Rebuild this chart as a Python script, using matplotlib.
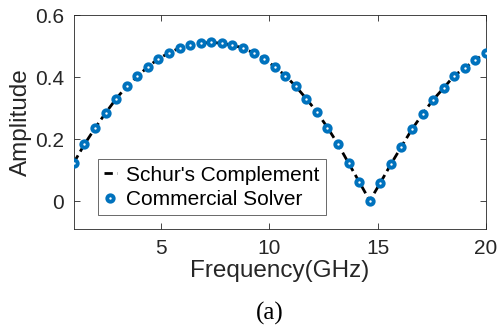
import numpy as np
import matplotlib
matplotlib.use("Agg")
import matplotlib.pyplot as plt

freq = np.linspace(1, 20, 40)
schur = [0.124, 0.183, 0.235, 0.284, 0.330, 0.370, 0.402, 0.433, 0.459, 0.478,
         0.494, 0.503, 0.509, 0.512, 0.509, 0.503, 0.494, 0.478, 0.459, 0.433,
         0.405, 0.370, 0.330, 0.287, 0.237, 0.183, 0.122, 0.062, 0.001, 0.059,
         0.119, 0.176, 0.232, 0.281, 0.327, 0.365, 0.405, 0.429, 0.456, 0.478]
solver = list(schur)
xticks = [5, 10, 15, 20]
yticks = [0, 0.2, 0.4, 0.6]

plt.rcParams['font.family'] = ['Liberation Sans', 'DejaVu Sans']
fig = plt.figure(figsize=(4.99, 3.28), dpi=100)
ax = fig.add_axes([0.148, 0.302, 0.826, 0.652])

ax.plot(freq, schur, color='black', lw=2, ls=(0, (3, 1.6)), label="Schur's Complement", zorder=2)
ax.plot(freq, solver, ls='none', marker='o', ms=4.6, mfc='white', mec='#0072BD', mew=2.8,
        label='Commercial Solver', zorder=3)

ax.set_xlim(1, 20)
ax.set_ylim(-0.09, 0.6)
ax.set_xticks(xticks)
ax.set_yticks(yticks)
ax.set_yticklabels(['0', '0.2', '0.4', '0.6'])
ax.tick_params(direction='in', top=True, right=True, length=4, width=0.6,
               colors='#262626', labelsize=15, pad=7)
for s in ax.spines.values():
    s.set_color('#262626')
    s.set_linewidth(0.6)
ax.set_xlabel('Frequency(GHz)', fontsize=17.5, color='#262626', labelpad=2)
ax.set_ylabel('Amplitude', fontsize=17.5, color='#262626', labelpad=2)

leg = ax.legend(loc='lower left', bbox_to_anchor=(0.058, 0.065), borderaxespad=0,
                fontsize=15, frameon=True, fancybox=False, edgecolor='#262626',
                handlelength=0.6, handletextpad=0.45, borderpad=0.3, labelspacing=0.25)
leg.get_frame().set_linewidth(0.6)

fig.text(0.54, 0.045, '(a)', fontsize=18, family='Liberation Serif', ha='center', va='center')

fig.savefig('out.png', dpi=100)
